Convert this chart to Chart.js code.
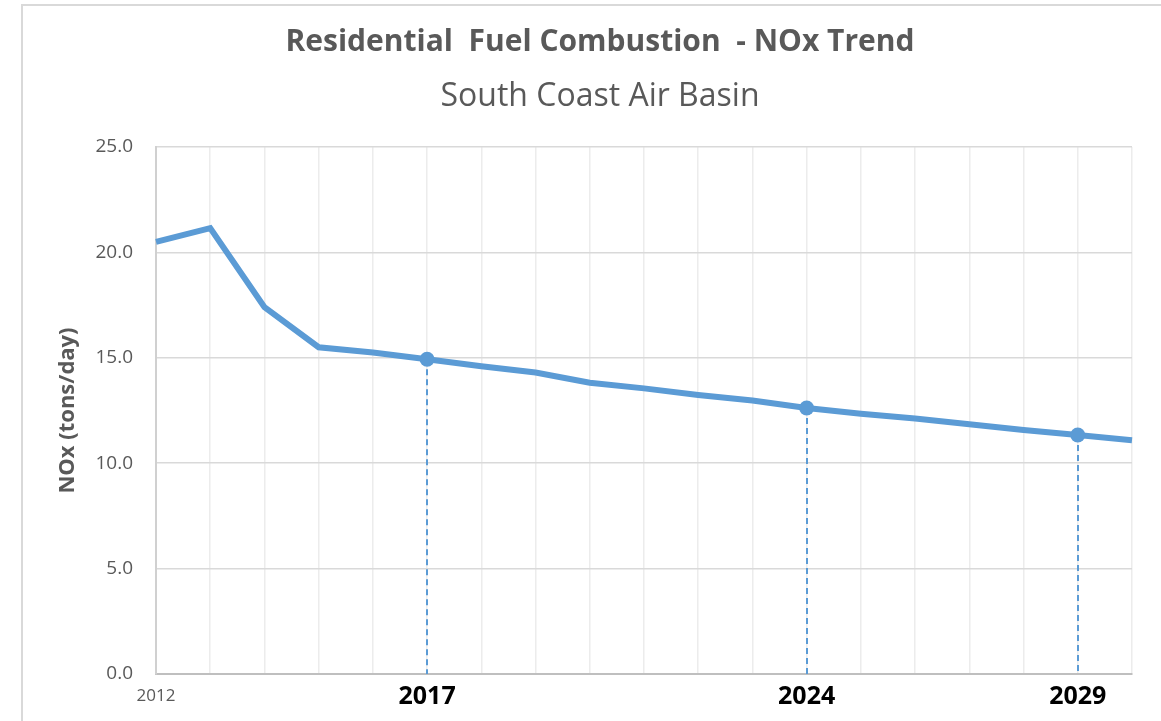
<!DOCTYPE html>
<html>
<head>
<meta charset="utf-8">
<title>Residential Fuel Combustion - NOx Trend</title>
<script src="https://cdn.jsdelivr.net/npm/chart.js@4.4.1/dist/chart.umd.min.js"></script>
<style>
  html, body { margin: 0; padding: 0; background: #fff; overflow: hidden; }
  #wrap { position: relative; width: 1161px; height: 721px; }
  #frame { position: absolute; left: 21px; top: 4px; width: 1200px; height: 800px; border: 2px solid #d9d9d9; box-sizing: border-box; }
  .heading { position: absolute; left: 21px; width: 1158px; text-align: center; color: #595959; font-family: 'Open Sans', sans-serif; white-space: pre; }
  #title { top: 25px; font-size: 30px; line-height: 30px; font-weight: bold; }
  #subtitle { top: 78px; font-size: 32px; line-height: 32px; }
  canvas { position: absolute; left: 0; top: 0; }
</style>
</head>
<body>
<div id="wrap">
  <div id="frame"></div>
  <canvas id="noxChart" width="1161" height="721"></canvas>
  <div id="title" class="heading">Residential  Fuel Combustion  - NOx Trend</div>
  <div id="subtitle" class="heading">South Coast Air Basin</div>
</div>
<script>
// Emission inventory, tons of NOx per day
const years = ['2012', '2013', '2014', '2015', '2016', '2017', '2018', '2019', '2020', '2021',
               '2022', '2023', '2024', '2025', '2026', '2027', '2028', '2029', '2030'];
const noxTonsPerDay = [20.5, 21.15, 17.4, 15.5, 15.25, 14.93, 14.6, 14.3, 13.82, 13.55,
                       13.24, 12.97, 12.62, 12.35, 12.12, 11.85, 11.57, 11.34, 11.09];
// years that get a label on the x axis, and the milestone years with a marker
const labeledYears = ['2012', '2017', '2024', '2029'];
const milestoneYears = ['2017', '2024', '2029'];
const yTicks = [0, 5, 10, 15, 20, 25];

const FONT = "'Open Sans', 'Noto Sans', sans-serif";
const BLUE = '#5b9bd5';

// dashed drop lines from each milestone point down to the axis
const dropLines = {
    id: 'dropLines',
    beforeDatasetsDraw(chart) {
        const ctx = chart.ctx;
        const x = chart.scales.x, y = chart.scales.y;
        ctx.save();
        ctx.strokeStyle = BLUE;
        ctx.lineWidth = 2;
        ctx.setLineDash([6, 4]);
        milestoneYears.forEach(function(yr) {
            const i = years.indexOf(yr);
            const px = Math.round(x.getPixelForValue(i));
            ctx.beginPath();
            ctx.moveTo(px, y.getPixelForValue(noxTonsPerDay[i]));
            ctx.lineTo(px, chart.chartArea.bottom);
            ctx.stroke();
        });
        ctx.restore();
    }
};

new Chart(document.getElementById('noxChart'), {
    type: 'line',
    data: {
        labels: years,
        datasets: [{
            label: 'NOx',
            data: noxTonsPerDay,
            borderColor: BLUE,
            backgroundColor: BLUE,
            borderWidth: 6,
            tension: 0,
            pointRadius: function(c) { return milestoneYears.includes(years[c.dataIndex]) ? 7.5 : 0; },
            pointBorderWidth: 0,
            pointHoverRadius: 7.5
        }]
    },
    options: {
        responsive: false,
        devicePixelRatio: 1,
        animation: false,
        layout: { padding: { top: 147, left: 21, right: 29, bottom: 0 } },
        plugins: {
            legend: { display: false },
            tooltip: { enabled: false }
        },
        scales: {
            x: {
                offset: false,
                grid: { color: '#ececec', lineWidth: 1.5, drawTicks: false },
                border: { color: '#bfbfbf', width: 2 },
                afterFit: function(scale) { scale.height = 47; },
                ticks: {
                    autoSkip: false,
                    maxRotation: 0,
                    minRotation: 0,
                    padding: 13,
                    callback: function(value) {
                        const lbl = this.getLabelForValue(value);
                        return labeledYears.includes(lbl) ? lbl : '';
                    },
                    color: function(c) { return c.index === 0 ? '#595959' : '#000000'; },
                    font: function(c) {
                        return c.index === 0
                            ? { family: FONT, size: 17, lineHeight: 1.13 }
                            : { family: FONT, size: 25, weight: 'bold', lineHeight: 0.77 };
                    }
                }
            },
            y: {
                min: yTicks[0],
                max: yTicks[yTicks.length - 1],
                afterBuildTicks: function(scale) {
                    scale.ticks = yTicks.map(function(v) { return { value: v }; });
                },
                grid: { color: '#d9d9d9', lineWidth: 1.5, drawTicks: false },
                border: { color: '#d0d0d0', width: 2 },
                afterFit: function(scale) { scale.width = 135; },
                ticks: {
                    padding: 23,
                    color: '#595959',
                    font: { family: FONT, size: 19 },
                    callback: function(v) { return v.toFixed(1); }
                },
                title: {
                    display: true,
                    text: 'NOx (tons/day)',
                    color: '#595959',
                    font: { family: FONT, size: 22, weight: 'bold', lineHeight: 1.2 },
                    padding: { top: 34, bottom: 0 }
                }
            }
        }
    },
    plugins: [dropLines]
});
</script>
</body>
</html>
